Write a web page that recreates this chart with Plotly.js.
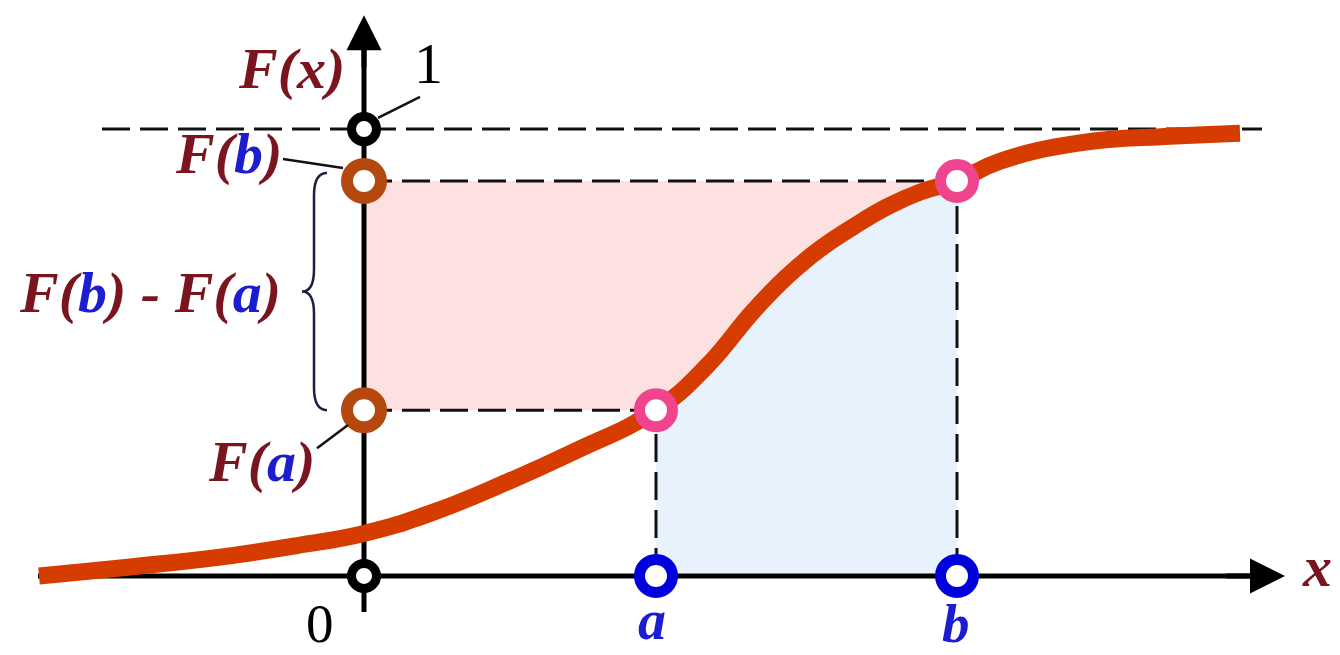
<!DOCTYPE html>
<html>
<head>
<meta charset="utf-8">
<script src="https://cdn.plot.ly/plotly-3.0.1.min.js"></script>
<style>html,body{margin:0;padding:0;background:#fff;}#chart{width:1340px;height:655px;}</style>
</head>
<body>
<div id="chart"></div>
<script>
// ---- data ----
const curveX = [-3.25, -2.34, -1.34, -0.67, 0, 0.66, 1.43, 2.09, 2.92, 3.43, 3.89, 4.23, 4.56, 4.89, 5.23, 5.56, 5.93, 6.36, 7.16, 8.06, 8.76];
const curveF = [0.0, 0.020, 0.045, 0.068, 0.095, 0.140, 0.210, 0.277, 0.371, 0.470, 0.592, 0.670, 0.732, 0.781, 0.826, 0.859, 0.884, 0.928, 0.969, 0.984, 0.991];
const a = 2.92, b = 5.93;
const Fa = 0.371, Fb = 0.884;
const xAxisStart = -3.26, xAxisEnd = 9.21;
const yAxisStart = -0.081, yAxisEnd = 1.255;
const oneLineStart = -2.62, oneLineEnd = 8.98;

// ---- styles ----
const curveColor = '#d63c00';
const brown = '#b4480f';
const pink = '#f0448f';
const blue = '#0000dd';
const textRed = '#7a1520';
const textBlue = '#1c1cd0';
const serif = 'Liberation Serif, Times New Roman, serif';
const dash = '28px,10px';

// curve between a and b (for the filled regions)
const midX = [], midF = [];
curveX.forEach((x, i) => { if (x >= a && x <= b) { midX.push(x); midF.push(curveF[i]); } });

const traces = [];
// pink region: y-axis .. curve, between F(a) and F(b)
traces.push({x: [0, ...midX, 0], y: [Fa, ...midF, Fb], mode: 'lines', fill: 'toself',
  fillcolor: '#fde0e0', line: {width: 0, color: 'rgba(0,0,0,0)'}, hoverinfo: 'skip'});
// blue region: a .. b under the curve
traces.push({x: [a, ...midX, b], y: [0, ...midF, 0], mode: 'lines', fill: 'toself',
  fillcolor: '#e7f2fc', line: {width: 0, color: 'rgba(0,0,0,0)'}, hoverinfo: 'skip'});
// dashed guide lines
const dl = {color: '#111', width: 3, dash: dash};
traces.push({x: [oneLineStart, oneLineEnd], y: [1, 1], mode: 'lines', line: dl});
traces.push({x: [0, b], y: [Fb, Fb], mode: 'lines', line: dl});
traces.push({x: [0, a], y: [Fa, Fa], mode: 'lines', line: dl});
traces.push({x: [a, a], y: [0, Fa], mode: 'lines', line: dl});
traces.push({x: [b, b], y: [0, Fb], mode: 'lines', line: dl});
// axes
traces.push({x: [xAxisStart, xAxisEnd - 0.2], y: [0, 0], mode: 'lines', line: {color: '#000', width: 5}});
traces.push({x: [0, 0], y: [yAxisStart, yAxisEnd - 0.05], mode: 'lines', line: {color: '#000', width: 5}});
// CDF curve
traces.push({x: curveX, y: curveF, mode: 'lines', line: {color: curveColor, width: 17, shape: 'spline', smoothing: 1.3}});
// markers
function ring(xs, ys, color, size, w) {
  return {x: xs, y: ys, mode: 'markers', marker: {symbol: 'circle', size: size, color: '#fff', line: {color: color, width: w}}};
}
traces.push(ring([0, 0], [0, 1], '#000', 25, 9));
traces.push(ring([0, 0], [Fa, Fb], brown, 34, 12));
traces.push(ring([a, b], [Fa, Fb], pink, 33, 11));
traces.push(ring([a, b], [0, 0], blue, 33, 11));

// brace from F(a) to F(b)
const bt = Fb + 0.018, bb = Fa, bm = (bt + bb) / 2;
const xe = -0.37, xs = -0.50, xt = -0.62, k = 0.05;
const bracePath = `M${xe},${bt} Q${xs},${bt} ${xs},${bt - k} L${xs},${bm + k} Q${xs},${bm} ${xt},${bm} ` +
                  `Q${xs},${bm} ${xs},${bm - k} L${xs},${bb + k} Q${xs},${bb} ${xe},${bb}`;

const shapes = [
  {type: 'path', xref: 'x', yref: 'y', path: bracePath, line: {color: '#1a2040', width: 2.5}},
  {type: 'line', xref: 'x', yref: 'y', x0: 0.56, y0: 1.072, x1: 0.14, y1: 1.025, line: {color: '#111', width: 2.5}},
  {type: 'line', xref: 'x', yref: 'y', x0: -0.81, y0: 0.933, x1: -0.21, y1: 0.913, line: {color: '#111', width: 2.5}},
  {type: 'line', xref: 'x', yref: 'y', x0: -0.47, y0: 0.286, x1: -0.16, y1: 0.338, line: {color: '#111', width: 2.5}}
];

const bi = (c, s) => ({family: serif, size: s || 58, color: c, weight: 'bold', style: 'italic'});
const rg = (s) => ({family: serif, size: s || 58, color: '#000'});
const B = (t) => `<span style="color:${textBlue}">${t}</span>`;
const annotations = [
  {x: -0.73, y: 1.136, text: 'F(x)', font: bi(textRed)},
  {x: 0.64, y: 1.148, text: '1', font: rg()},
  {x: -1.36, y: 0.946, text: 'F(' + B('b') + ')', font: bi(textRed)},
  {x: -2.14, y: 0.635, text: 'F(' + B('b') + ') - F(' + B('a') + ')', font: bi(textRed)},
  {x: -1.03, y: 0.255, text: 'F(' + B('a') + ')', font: bi(textRed)},
  {x: -0.44, y: -0.107, text: '0', font: rg(55)},
  {x: a - 0.04, y: -0.098, text: 'a', font: bi(textBlue, 56)},
  {x: b - 0.01, y: -0.107, text: 'b', font: bi(textBlue, 55)},
  {x: 9.53, y: 0.02, text: 'x', font: bi(textRed)},
  // arrow heads of the axes
  {x: xAxisEnd, y: 0, ax: xAxisEnd - 0.6, ay: 0, axref: 'x', ayref: 'y', text: '', showarrow: true,
   arrowhead: 2, arrowsize: 1.4, arrowwidth: 5, arrowcolor: '#000'},
  {x: 0, y: yAxisEnd, ax: 0, ay: yAxisEnd - 0.12, axref: 'x', ayref: 'y', text: '', showarrow: true,
   arrowhead: 2, arrowsize: 1.4, arrowwidth: 5, arrowcolor: '#000'}
].map(o => Object.assign({xref: 'x', yref: 'y', showarrow: false}, o));

const layout = {
  width: 1340, height: 655,
  margin: {l: 0, r: 0, t: 0, b: 0},
  paper_bgcolor: '#fff', plot_bgcolor: '#fff',
  showlegend: false,
  xaxis: {range: [-3.64, 9.76], visible: false, fixedrange: true},
  yaxis: {range: [-0.177, 1.289], visible: false, fixedrange: true},
  shapes: shapes,
  annotations: annotations
};
Plotly.newPlot('chart', traces, layout, {displayModeBar: false, staticPlot: true});
</script>
</body>
</html>
